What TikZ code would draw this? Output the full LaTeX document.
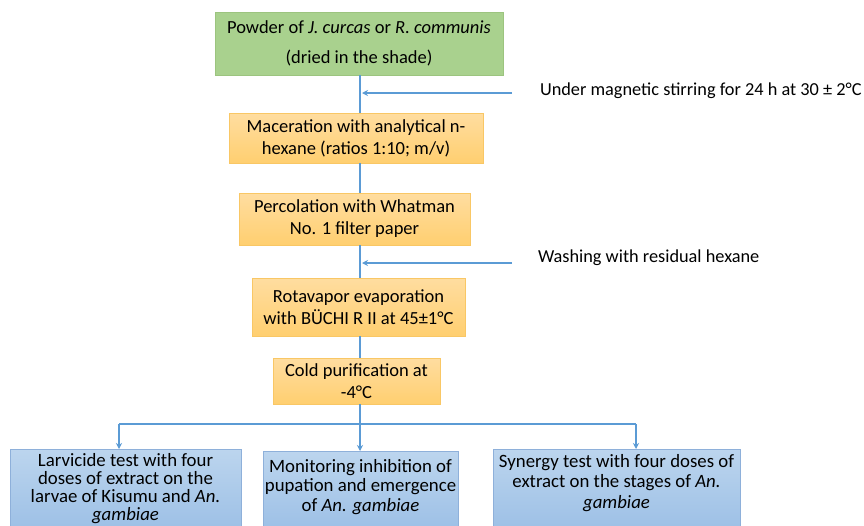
\documentclass[tikz,border=0pt]{standalone}
\usepackage{fontspec}
\setmainfont{Carlito}
\usetikzlibrary{arrows.meta,calc}
\definecolor{linec}{HTML}{5B9BD5}
\definecolor{greenf}{HTML}{A9D18E}
\definecolor{greend}{HTML}{9CC47F}
\definecolor{orangeT}{HTML}{FFDDA0}
\definecolor{orangeB}{HTML}{FFCF70}
\definecolor{oranged}{HTML}{F9C765}
\definecolor{blueT}{HTML}{BCD5EE}
\definecolor{blueB}{HTML}{9DC0E6}
\definecolor{blued}{HTML}{8EB0DA}
\tikzset{
  x=1pt, y=-1pt,
  every node/.style={inner sep=0pt, outer sep=0pt, font=\fontsize{18.5}{22}\selectfont},
  greenbox/.style={draw=greend, fill=greenf, line width=0.8pt, align=center, font=\fontsize{18.5}{30}\selectfont},
  orangebox/.style={draw=oranged, line width=0.8pt, top color=orangeT, bottom color=orangeB, align=center},
  bluebox/.style={draw=blued, line width=0.8pt, top color=blueT, bottom color=blueB},
  bluetext/.style={align=center, font=\fontsize{18.8}{#1}\selectfont},
  conn/.style={draw=linec, line width=1.3pt},
  arr/.style={conn, -{Stealth[length=6pt,width=6pt]}},
  sidetext/.style={anchor=west, font=\fontsize{18.3}{22}\selectfont}
}
\begin{document}
\begin{tikzpicture}
\useasboundingbox (0,0) rectangle (864,525);
\fill[white] (0,0) rectangle (864,525);
\coordinate (t) at (360,0);
\node[greenbox, minimum width=288pt, minimum height=63pt] (g) at (359,43.5)
  {Powder of \textit{J. curcas} or \textit{R. communis}\\(dried in the shade)};
\node[orangebox, minimum width=254pt, minimum height=50pt] (b2) at (356,138)
  {Maceration with analytical n-\\hexane (ratios 1:10; m/v)};
\node[orangebox, minimum width=231pt, minimum height=52pt] (b3) at (354.5,219)
  {Percolation with Whatman\\No. 1 filter paper};
\node[orangebox, minimum width=213pt, minimum height=58pt] (b4) at (358.5,307)
  {Rotavapor evaporation\\with BÜCHI R II at 45±1°C};
\node[orangebox, minimum width=167pt, minimum height=46pt] (b5) at (356.5,381)
  {Cold purification at\\-4°C};
\node[bluebox, minimum width=231pt, minimum height=80pt] (c1) at (125.5,489) {};
\node[bluebox, minimum width=195pt, minimum height=78pt] (c2) at (360.5,490) {};
\node[bluebox, minimum width=247pt, minimum height=80pt] (c3) at (616.5,489) {};
\node[bluetext=18] (c1t) at (125.5,489)
  {Larvicide test with four\\doses of extract on the\\larvae of Kisumu and \textit{An.}\\\textit{gambiae}};
\node[bluetext=19.5] (c2t) at (360.5,487)
  {Monitoring inhibition of\\pupation and emergence\\of \textit{An. gambiae}};
\node[bluetext=20.5] (c3t) at (616.5,483)
  {Synergy test with four doses of\\extract on the stages of \textit{An.}\\\textit{gambiae}};
% trunk
\draw[conn] (g.south -| t) -- (b2.north -| t);
\draw[conn] (b2.south -| t) -- (b3.north -| t);
\draw[conn] (b3.south -| t) -- (b4.north -| t);
\draw[conn] (b4.south -| t) -- (b5.north -| t);
% side inputs
\coordinate (s1) at (512,93);
\coordinate (s2) at (512,263);
\draw[arr] (s1) -- ($(s1 -| t)+(2,0)$);
\draw[arr] (s2) -- ($(s2 -| t)+(2,0)$);
\node[sidetext] (l1) at (540,91) {Under magnetic stirring for 24 h at 30 ± 2°C};
\node[sidetext] (l2) at (538,258) {Washing with residual hexane};
% branches
\coordinate (h) at (360,424);
\coordinate (hl) at (119,424);
\coordinate (hr) at (636,424);
\draw[conn] (b5.south -| t) -- (h);
\draw[conn] (hl) -- (hr);
\draw[arr] (hl) -- (hl |- c1.north);
\draw[arr] (h) -- (c2.north -| t);
\draw[arr] (hr) -- (hr |- c3.north);
\end{tikzpicture}
\end{document}
